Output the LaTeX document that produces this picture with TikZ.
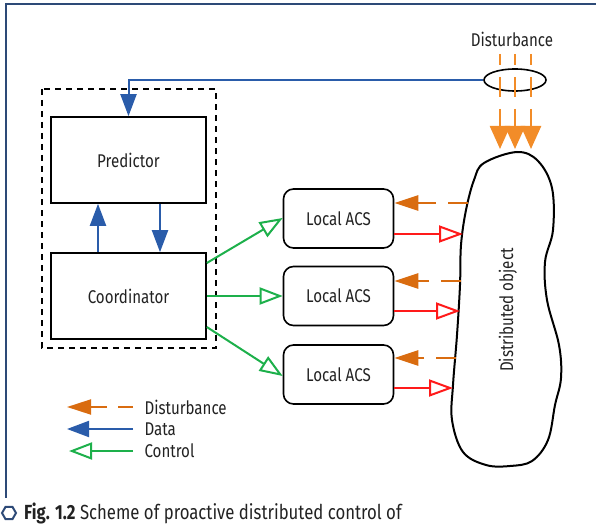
\documentclass[tikz,border=0pt]{standalone}
\usepackage{fontspec}
\setmainfont[FakeStretch=0.82]{Fira Sans}
\usetikzlibrary{arrows.meta,shapes.geometric}
\definecolor{navy}{HTML}{2D4A77}
\definecolor{datab}{HTML}{2A5CAA}
\definecolor{torange}{HTML}{F28C28}
\definecolor{dorange}{HTML}{D96C10}
\definecolor{ctrlg}{HTML}{1DB04B}
\definecolor{redc}{HTML}{FF1A1A}
\definecolor{txt}{HTML}{222222}
\tikzset{
  lbl/.style={font=\fontsize{18.5}{20}\selectfont, text=txt},
  blockbox/.style={draw=black, line width=1.6bp, minimum width=155bp, minimum height=86bp, lbl},
  acsbox/.style={draw=black, line width=1.6bp, rounded corners=10bp, minimum width=110bp, minimum height=59bp, lbl},
  data/.style={draw=datab, line width=2bp, -{Triangle[length=22bp,width=16bp]}},
  ctrl/.style={draw=ctrlg, line width=2bp, -{Triangle[open,length=23bp,width=17bp,fill=white]}},
  act/.style={draw=redc, line width=2bp, -{Triangle[open,length=24bp,width=17bp,fill=white]}},
  distb/.style={draw=dorange, line width=2.5bp, -{Triangle[length=24bp,width=15bp]}, dash pattern=on 20bp off 12bp on 200bp},
  topd/.style={draw=torange, line width=2.5bp, -{Triangle[length=23bp,width=20bp]}, dash pattern=on 11bp off 12bp on 20bp off 12bp on 200bp},
}
\begin{document}
\begin{tikzpicture}[x=1bp,y=-1bp]
\useasboundingbox (0,0) rectangle (596,525);
% frame
\draw[navy, line width=2.5bp] (597,4) -- (6,4) -- (6,498);
% dashed group
\draw[black, line width=1.5bp, dash pattern=on 6bp off 5bp] (42,89) rectangle (216,348);
% blocks
\node[blockbox] (pred) at (128.5,160) {Predictor};
\node[blockbox] (coord) at (128.5,296) {Coordinator};
\node[acsbox] (acs1) at (338.5,218.5) {Local ACS};
\node[acsbox] (acs2) at (338.5,296) {Local ACS};
\node[acsbox] (acs3) at (338.5,374.5) {Local ACS};
% distributed object
\draw[black, line width=2bp] plot[smooth cycle, tension=0.6] coordinates {
 (517,152) (538,161) (552,188) (553,230) (545,262) (547,300) (559,345) (561,378)
 (555,405) (548,440) (532,461) (510,466) (486,465) (463,452) (452,420) (453,385)
 (457,335) (460,285) (461,245) (466,210) (474,180) (484,163)};
\node[lbl, rotate=90] (obj) at (508,310) {Distributed object};
\coordinate (o1a) at (463,234);
\coordinate (o1d) at (468,203);
\coordinate (o2a) at (460,311);
\coordinate (o2d) at (461,281);
\coordinate (o3a) at (453,388);
\coordinate (o3d) at (456,358);
% disturbance
\node[lbl] (dist) at (512,39) {Disturbance};
\node[draw=black, line width=1.6bp, ellipse, minimum width=62bp, minimum height=22bp, inner sep=0pt] (ell) at (515,80) {};
\coordinate (ds1) at (500,54); \coordinate (dt1) at (500,149);
\coordinate (ds2) at (515,54); \coordinate (dt2) at (515,149);
\coordinate (ds3) at (531,54); \coordinate (dt3) at (531,149);
\draw[topd] (ds1) -- (dt1);
\draw[topd] (ds2) -- (dt2);
\draw[topd] (ds3) -- (dt3);
% data
\draw[data] (ell.west) -| (pred.north);
\draw[data] (coord.north -| 98,0) -- (pred.south -| 98,0);
\draw[data] (pred.south -| 160,0) -- (coord.north -| 160,0);
% control
\draw[ctrl] (coord.east |- 0,263) -- (acs1.west |- 0,218);
\draw[ctrl] (coord.east) -- (acs2.west);
\draw[ctrl] (coord.east |- 0,327) -- (acs3.west |- 0,376);
% actuation
\draw[act] (acs1.east |- o1a) -- (o1a);
\draw[act] (acs2.east |- o2a) -- (o2a);
\draw[act] (acs3.east |- o3a) -- (o3a);
% disturbance feedback
\draw[distb] (o1d) -- (acs1.east |- o1d);
\draw[distb] (o2d) -- (acs2.east |- o2d);
\draw[distb] (o3d) -- (acs3.east |- o3d);
% legend
\coordinate (l1s) at (133,407); \coordinate (l1e) at (67,407);
\coordinate (l2s) at (133,429); \coordinate (l2e) at (67,429);
\coordinate (l3s) at (133,451); \coordinate (l3e) at (69,451);
\draw[distb, dash pattern=on 15bp off 11bp on 200bp, line width=2bp] (l1s) -- (l1e);
\draw[data] (l2s) -- (l2e);
\draw[ctrl] (l3s) -- (l3e);
\node[lbl, anchor=west] (lg1) at (141,407) {Disturbance};
\node[lbl, anchor=west] (lg2) at (141,429) {Data};
\node[lbl, anchor=west] (lg3) at (141,451) {Control};
% caption
\node[regular polygon, regular polygon sides=6, draw=navy, line width=2bp, minimum size=14bp, inner sep=0pt] (hex) at (9,513) {};
\node[anchor=base west, font=\fontsize{20.5}{22}\selectfont, text=txt, inner sep=0pt] (cap) at (24,519.5) {\textbf{Fig. 1.2} Scheme of proactive distributed control of};
\end{tikzpicture}
\end{document}
